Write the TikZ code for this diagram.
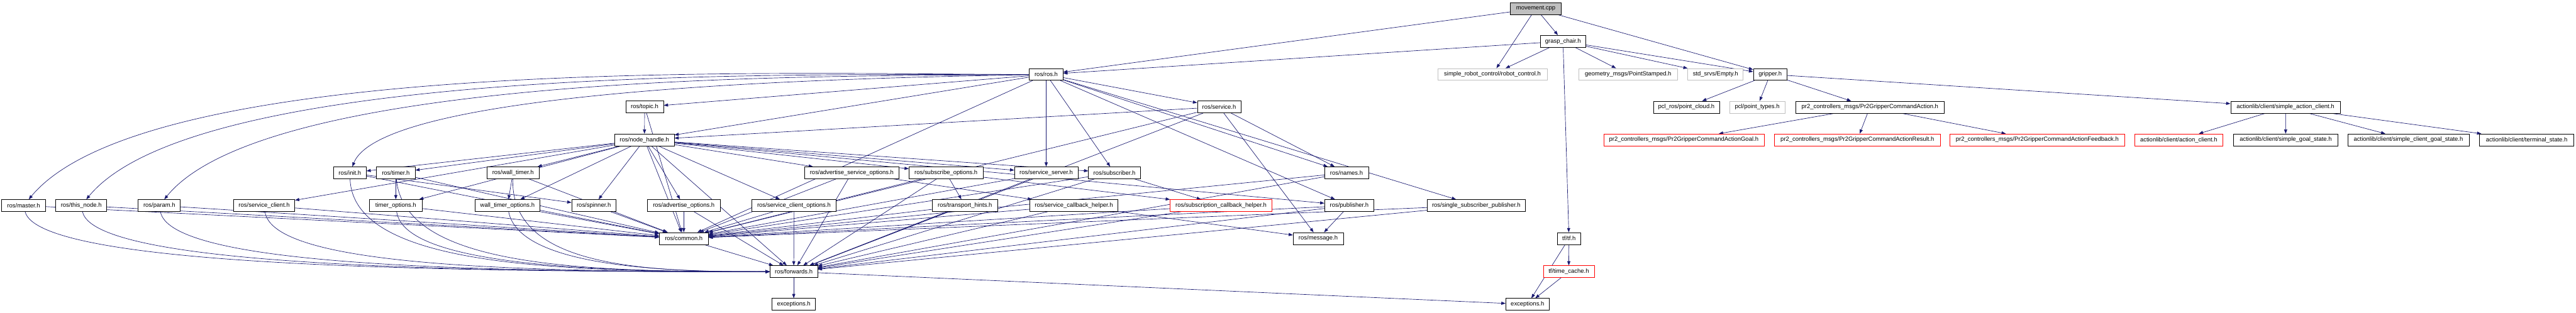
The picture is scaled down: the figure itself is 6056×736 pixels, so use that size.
\documentclass[tikz,border=0pt]{standalone}
\usepackage{fontspec}
\setmainfont{Liberation Sans}
\usetikzlibrary{arrows.meta,backgrounds}
\definecolor{EdgeBlue}{RGB}{25,25,112}
\definecolor{NodeGrey}{RGB}{191,191,191}

\begin{document}
\begin{tikzpicture}[x=0.75pt,y=-0.75pt,
    box/.style={draw=black,fill=white,line width=0.75pt,minimum height=21pt,
      inner sep=0pt,font=\fontsize{10.5}{12}\selectfont},
    redbox/.style={box,draw=red},
    greybox/.style={box,draw=NodeGrey},
    rootbox/.style={box,fill=NodeGrey},
    bw/.style={minimum width=#1*0.75pt},
    dep/.style={draw=EdgeBlue,line width=0.75pt,-{Triangle[length=7.5pt,width=5.5pt]}}]
  \useasboundingbox (0,0) rectangle (6056,736);

  % top of the graph
  \node[rootbox,bw=119] (movement) at (3610.5,20) {movement.cpp};
  \node[box,bw=107] (graspchair) at (3674.5,97) {grasp\_chair.h};
  \node[box,bw=79] (ros) at (2459.5,175) {ros/ros.h};
  \node[greybox,bw=257] (robotcontrol) at (3508.5,175) {simple\_robot\_control/robot\_control.h};
  \node[greybox,bw=233] (pointstamped) at (3827.5,175) {geometry\_msgs/PointStamped.h};
  \node[greybox,bw=130] (empty) at (4033,175) {std\_srvs/Empty.h};
  \node[box,bw=79] (gripper) at (4161.5,175) {gripper.h};

  \node[box,bw=89] (topic) at (1515.5,251.5) {ros/topic.h};
  \node[box,bw=102] (service) at (2866,251.5) {ros/service.h};
  \node[box,bw=155] (pointcloud) at (3964.5,252) {pcl\_ros/point\_cloud.h};
  \node[greybox,bw=130] (pointtypes) at (4131,252) {pcl/point\_types.h};
  \node[box,bw=350] (gripaction) at (4396,252) {pr2\_controllers\_msgs/Pr2GripperCommandAction.h};
  \node[box,bw=258] (sac) at (5373,252) {actionlib/client/simple\_action\_client.h};

  \node[box,bw=140] (nodehandle) at (1515,329) {ros/node\_handle.h};
  \node[redbox,bw=377] (goal) at (3958.5,329) {pr2\_controllers\_msgs/Pr2GripperCommandActionGoal.h};
  \node[redbox,bw=389] (result) at (4366.5,329) {pr2\_controllers\_msgs/Pr2GripperCommandActionResult.h};
  \node[redbox,bw=411] (feedback) at (4789.5,329) {pr2\_controllers\_msgs/Pr2GripperCommandActionFeedback.h};
  \node[redbox,bw=208] (actionclient) at (5122,329) {actionlib/client/action\_client.h};
  \node[box,bw=245] (simplegoal) at (5373.5,329) {actionlib/client/simple\_goal\_state.h};
  \node[box,bw=286] (clientgoal) at (5662,329) {actionlib/client/simple\_client\_goal\_state.h};
  \node[box,bw=222] (terminal) at (5940,329) {actionlib/client/terminal\_state.h};

  % ros headers
  \node[box,bw=77] (init) at (822.5,406.5) {ros/init.h};
  \node[box,bw=91] (timer) at (930.5,406.5) {ros/timer.h};
  \node[box,bw=122] (walltimer) at (1206,406.5) {ros/wall\_timer.h};
  \node[box,bw=223] (advsrvopts) at (2002.5,406.5) {ros/advertise\_service\_options.h};
  \node[box,bw=174] (subopts) at (2224,406.5) {ros/subscribe\_options.h};
  \node[box,bw=149] (srvserver) at (2459.5,406.5) {ros/service\_server.h};
  \node[box,bw=122] (subscriber) at (2620,406.5) {ros/subscriber.h};
  \node[box,bw=103] (names) at (3165.5,406.5) {ros/names.h};

  \node[box,bw=103] (master) at (55.5,483.5) {ros/master.h};
  \node[box,bw=120] (thisnode) at (191,483.5) {ros/this\_node.h};
  \node[box,bw=99] (param) at (374.5,483.5) {ros/param.h};
  \node[box,bw=144] (srvclient) at (621,483.5) {ros/service\_client.h};
  \node[box,bw=123] (timeropts) at (930.5,483.5) {timer\_options.h};
  \node[box,bw=152] (walltimeropts) at (1193,483.5) {wall\_timer\_options.h};
  \node[box,bw=104] (spinner) at (1396,483.5) {ros/spinner.h};
  \node[box,bw=171] (advopts) at (1607.5,483.5) {ros/advertise\_options.h};
  \node[box,bw=199] (srvclientopts) at (1866.5,483.5) {ros/service\_client\_options.h};
  \node[box,bw=155] (transport) at (2268.5,483.5) {ros/transport\_hints.h};
  \node[box,bw=207] (srvcbhelper) at (2524.5,483.5) {ros/service\_callback\_helper.h};
  \node[redbox,bw=239] (subcbhelper) at (2870.5,483.5) {ros/subscription\_callback\_helper.h};
  \node[box,bw=116] (publisher) at (3172,483.5) {ros/publisher.h};
  \node[box,bw=231] (sspub) at (3470.5,483.5) {ros/single\_subscriber\_publisher.h};

  \node[box,bw=115] (common) at (1607.5,561) {ros/common.h};
  \node[box,bw=118] (message) at (3099,561) {ros/message.h};
  \node[box,bw=55] (tf) at (3688.5,561) {tf/tf.h};
  \node[box,bw=112] (forwards) at (1866,639) {ros/forwards.h};
  \node[redbox,bw=120] (timecache) at (3688,639) {tf/time\_cache.h};
  \node[box,bw=102] (rosexc) at (1866,716) {exceptions.h};
  \node[box,bw=102] (tfexc) at (3591,716) {exceptions.h};

  % include edges
  \begin{scope}[on background layer]
    \foreach \a/\b in {movement/ros,movement/robotcontrol,movement/graspchair,movement/gripper,
        graspchair/ros,graspchair/robotcontrol,graspchair/pointstamped,graspchair/empty,
        graspchair/gripper,graspchair/tf,
        gripper/pointcloud,gripper/pointtypes,gripper/gripaction,gripper/sac,
        gripaction/goal,gripaction/result,gripaction/feedback,
        sac/actionclient,sac/simplegoal,sac/clientgoal,sac/terminal,
        tf/tfexc,tf/timecache,timecache/tfexc,
        ros/topic,ros/nodehandle,ros/service,
        ros/srvserver,ros/subscriber,ros/names,ros/publisher,ros/sspub,ros/common,
        topic/nodehandle,topic/common,
        service/nodehandle,service/common,service/forwards,service/message,service/names,
        nodehandle/forwards,nodehandle/publisher,nodehandle/subscriber,nodehandle/srvserver,
        nodehandle/srvclient,nodehandle/timer,nodehandle/walltimer,nodehandle/advopts,
        nodehandle/advsrvopts,nodehandle/subopts,nodehandle/srvclientopts,
        nodehandle/timeropts,nodehandle/walltimeropts,nodehandle/spinner,nodehandle/init,
        nodehandle/common,
        init/spinner,init/common,
        master/common,thisnode/common,param/common,srvclient/common,
        timer/common,timer/timeropts,timeropts/common,
        walltimer/common,walltimer/walltimeropts,
        walltimeropts/common,spinner/common,
        advopts/common,advopts/forwards,srvclientopts/common,srvclientopts/forwards,
        advsrvopts/forwards,advsrvopts/srvcbhelper,advsrvopts/common,
        subopts/forwards,subopts/common,subopts/transport,subopts/subcbhelper,
        transport/forwards,transport/common,
        srvcbhelper/forwards,srvcbhelper/common,srvcbhelper/message,
        srvserver/forwards,srvserver/common,
        subscriber/forwards,subscriber/common,subscriber/subcbhelper,
        subcbhelper/forwards,subcbhelper/common,
        names/forwards,names/common,
        publisher/forwards,publisher/common,publisher/message,
        sspub/forwards,sspub/common,
        common/forwards,forwards/rosexc,forwards/tfexc}
      \draw[dep] (\a) -- (\b);
    \foreach \b/\p/\q/\r/\s in {master/1900/176/355/123,thisnode/1950/178/471/143,
        param/2000/180/634/163,init/2100/182/905/200}
      \draw[dep] (ros) .. controls (\p,\q) and (\r,\s) .. (\b);
    \foreach \a/\p/\q in {master/90/1000,thisnode/220/1050,param/400/1100,
        srvclient/640/1200,init/830/1300,timer/950/1350,timeropts/950/1400,
        walltimer/1200/1500,walltimeropts/1220/1550}
      \draw[dep] (\a) .. controls (\p,625) and (\q,640) .. (forwards);
  \end{scope}
\end{tikzpicture}
\end{document}
